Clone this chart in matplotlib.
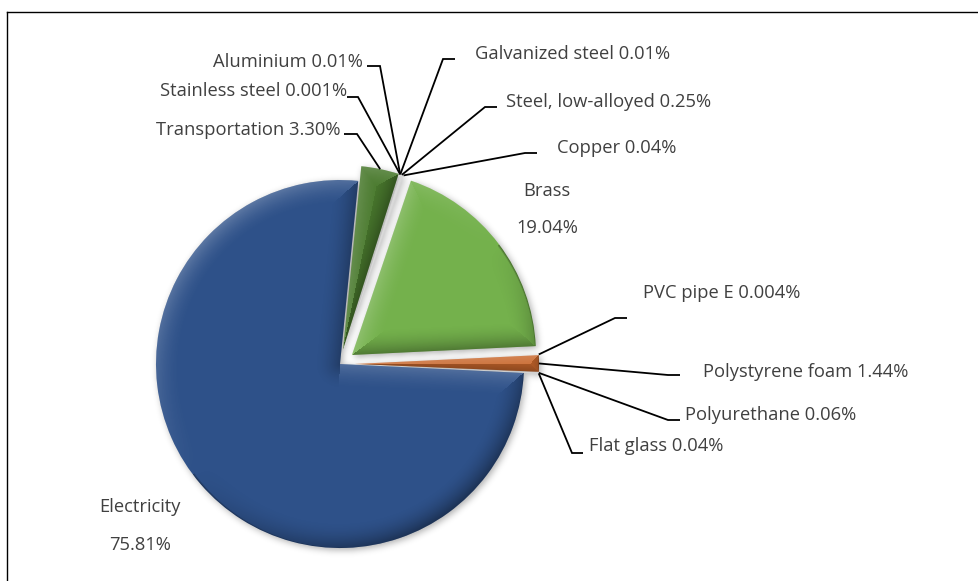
import numpy as np
import matplotlib
matplotlib.use("Agg")
import matplotlib.pyplot as plt
from matplotlib.lines import Line2D

# Share of impact by contributor (%), listed clockwise from the top of the pie
categories = ["Transportation", "Stainless steel", "Aluminium", "Galvanized steel",
              "Steel, low-alloyed", "Copper", "Brass", "PVC pipe E",
              "Polystyrene foam", "Polyurethane", "Flat glass", "Electricity"]
shares = [3.30, 0.001, 0.01, 0.01, 0.25, 0.04, 19.04, 0.004, 1.44, 0.06, 0.04, 75.81]
decimals = [2, 3, 2, 2, 2, 2, 2, 3, 2, 2, 2, 2]

colors = ["#4A7A2E", "#D9D9D9", "#D9D9D9", "#D9D9D9", "#D9D9D9", "#D9D9D9",
          "#74B14C", "#D9D9D9", "#C9672C", "#D9D9D9", "#D9D9D9", "#2E5189"]

W, H = 979, 581
fig = plt.figure(figsize=(W / 100, H / 100), dpi=100)
ax = fig.add_axes([0, 0, 1, 1])


def img_y(y):
    """Convert a top-down pixel row into the axes' y coordinate."""
    return H - y


R = 184
center = (340, img_y(364))
explode = [15] * (len(shares) - 1) + [0]

wedges, _ = ax.pie(shares, colors=colors, startangle=84.3, counterclock=False,
                   radius=R, center=center, explode=explode,
                   wedgeprops=dict(linewidth=0, zorder=2))
ax.set_xlim(0, W)
ax.set_ylim(0, H)
ax.set_aspect("equal")
ax.axis("off")

# ---- soft drop shadow under the slices ----
xs = np.arange(W) + 0.5
ys = np.arange(H) + 0.5
GX, GY = np.meshgrid(xs, ys)
pts = np.column_stack([GX.ravel(), GY.ravel()])
mask = np.zeros(GX.size, dtype=float)
for w in wedges:
    mask = np.maximum(mask, w.get_path().contains_points(pts).astype(float))
mask = mask.reshape(GX.shape)


def blur(a, sigma):
    rad = int(3 * sigma)
    k = np.exp(-0.5 * (np.arange(-rad, rad + 1) / sigma) ** 2)
    k /= k.sum()
    a = np.apply_along_axis(lambda m: np.convolve(m, k, mode="same"), 0, a)
    a = np.apply_along_axis(lambda m: np.convolve(m, k, mode="same"), 1, a)
    return a


shadow = blur(mask, 3.5)
sh = np.zeros(shadow.shape + (4,))
sh[..., 3] = np.clip(shadow, 0, 1) * 0.32
ax.imshow(sh, extent=(2, W + 2, -2, H - 2), origin="lower", zorder=1,
          interpolation="bilinear")


# ---- bevel lighting on each slice ----
def bevel_overlay(w, width=26.0, light=(-0.6, 0.8), lift=0.22, drop=0.38):
    cx, cy = w.center
    r0 = w.r
    t1, t2 = np.radians(w.theta1), np.radians(w.theta2)
    n = int(2 * r0) + 4
    bx = np.linspace(cx - r0 - 2, cx + r0 + 2, n)
    by = np.linspace(cy - r0 - 2, cy + r0 + 2, n)
    X, Y = np.meshgrid(bx, by)
    dx, dy = X - cx, Y - cy
    r = np.hypot(dx, dy) + 1e-9

    def ray_dist(t):
        ex, ey = np.cos(t), np.sin(t)
        proj = dx * ex + dy * ey
        cross = np.abs(ex * dy - ey * dx)
        return np.where(proj > 0, cross, r)

    d_arc = r0 - r
    d1 = ray_dist(t1)
    d2 = ray_dist(t2)
    D = np.stack([d_arc, d1, d2])
    idx = np.argmin(D, axis=0)
    d = D.min(axis=0)
    nx = np.choose(idx, [dx / r, np.full_like(r, np.sin(t1)), np.full_like(r, -np.sin(t2))])
    ny = np.choose(idx, [dy / r, np.full_like(r, -np.cos(t1)), np.full_like(r, np.cos(t2))])
    f = np.clip(1 - d / width, 0, 1) ** 1.8 * (nx * light[0] + ny * light[1])
    rgba = np.zeros(X.shape + (4,))
    pos = f > 0
    rgba[pos, :3] = 1.0
    rgba[..., 3] = np.where(pos, lift * f, drop * -f)
    # thin dark rim along the outer edge
    rim = np.clip(1 - np.abs(d_arc) / 2.0, 0, 1) * (idx == 0)
    dark = ~pos
    rgba[..., 3] = np.where(dark, np.maximum(rgba[..., 3], rim * 0.35), rgba[..., 3])
    im = ax.imshow(rgba, extent=(bx[0], bx[-1], by[0], by[-1]), origin="lower",
                   zorder=3, interpolation="bilinear")
    im.set_clip_path(w)


for w in wedges:
    if w.theta2 - w.theta1 > 1.0:
        bevel_overlay(w)

# ---- labels and leader lines ----
text_kw = dict(fontsize=13.2, color="#404040", family=["Open Sans", "DejaVu Sans"],
               va="center", zorder=5)
line_kw = dict(color="black", lw=1.3, zorder=4, solid_capstyle="butt",
               solid_joinstyle="miter")


def label_text(i):
    return f"{categories[i]} {shares[i]:.{decimals[i]}f}%"


def outer_point(w):
    tm = np.radians(0.5 * (w.theta1 + w.theta2))
    return (w.center[0] + w.r * np.cos(tm), w.center[1] + w.r * np.sin(tm))


# (elbow x, elbow y, tail x, text x, text y, ha) in pixel rows from top
leaders = {
    "Transportation": (357, 134, 344, 341, 130, "right"),
    "Stainless steel": (358, 97, 347, 347, 91, "right"),
    "Aluminium": (380, 66, 367, 363, 62, "right"),
    "Galvanized steel": (443, 59, 455, 475, 54, "left"),
    "Steel, low-alloyed": (485, 107, 497, 506, 102, "left"),
    "Copper": (525, 153, 537, 557, 148, "left"),
    "PVC pipe E": (615, 318, 627, 643, 293, "left"),
    "Polystyrene foam": (668, 375, 680, 703, 372, "left"),
    "Polyurethane": (668, 420, 680, 685, 415, "left"),
    "Flat glass": (572, 453, 583, 589, 446, "left"),
}

for i, name in enumerate(categories):
    if name not in leaders:
        continue
    ex, ey, tx, lx, ly, ha = leaders[name]
    px, py = outer_point(wedges[i])
    ax.add_line(Line2D([px, ex, tx], [py, img_y(ey), img_y(ey)], **line_kw))
    ax.text(lx, img_y(ly), label_text(i), ha=ha, **text_kw)

# two-line labels for the large slices
i_b = categories.index("Brass")
ax.text(547, img_y(191), categories[i_b], ha="center", **text_kw)
ax.text(547, img_y(228), f"{shares[i_b]:.2f}%", ha="center", **text_kw)
i_e = categories.index("Electricity")
ax.text(140, img_y(507), categories[i_e], ha="center", **text_kw)
ax.text(140, img_y(545), f"{shares[i_e]:.2f}%", ha="center", **text_kw)

# chart frame (top and left edges inside the canvas)
fig.add_artist(Line2D([7 / W, 1], [1 - 12 / H, 1 - 12 / H], color="black", lw=1.0,
                      transform=fig.transFigure))
fig.add_artist(Line2D([7 / W, 7 / W], [0, 1 - 12 / H], color="black", lw=1.0,
                      transform=fig.transFigure))

fig.savefig("out.png", dpi=100, facecolor="white")
